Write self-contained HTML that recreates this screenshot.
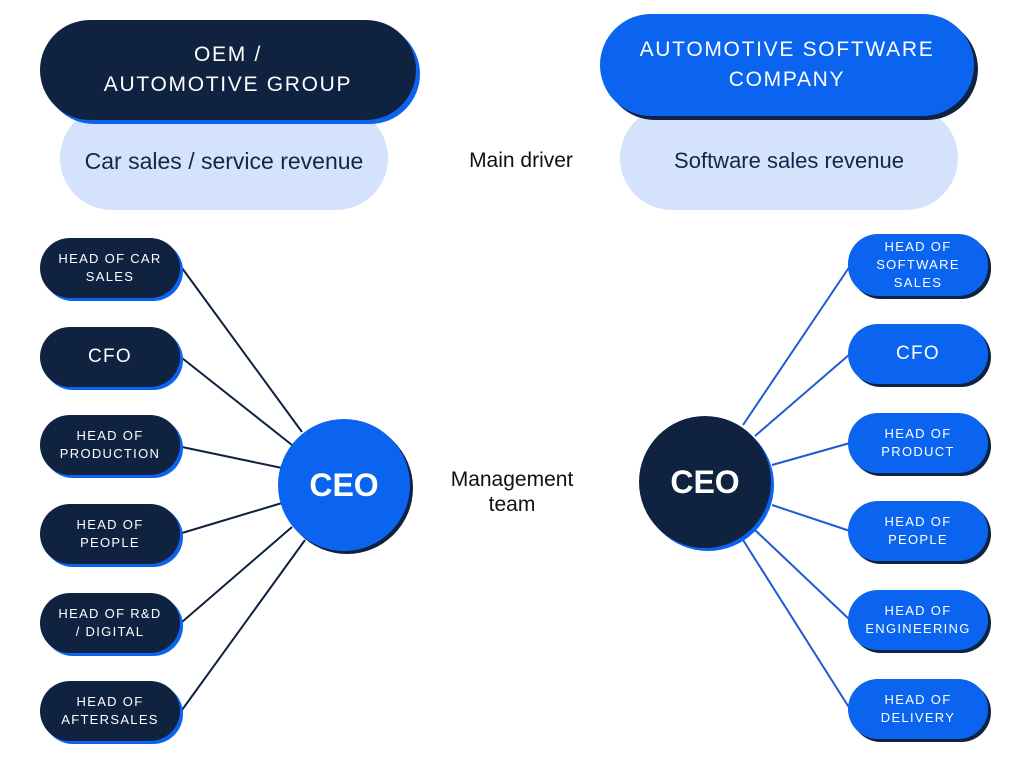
<!DOCTYPE html>
<html><head><meta charset="utf-8"><style>
body{margin:0;width:1024px;height:768px;background:#fff;font-family:"Liberation Sans",sans-serif;position:relative;overflow:hidden}
.a{position:absolute;display:flex;align-items:center;justify-content:center;text-align:center;box-sizing:border-box}
.big{border-radius:52px;font-size:21px;letter-spacing:1.7px;line-height:30px;color:#fff}
.light{background:#d4e3fb;border-radius:52px;font-size:23px;color:#13254a}
.pill{width:140px;height:60px;border-radius:30px;color:#fff;font-size:13px;letter-spacing:1.3px;line-height:18px}
.L{background:#0f2240;box-shadow:3px 3px 0 #0a64f0}
.R{background:#0a64f0;box-shadow:3px 3px 0 #0f2240}
.cfo{font-size:19px}
.ceo{border-radius:50%;width:132px;height:132px;font-size:32px;font-weight:bold;color:#fff}
.t{font-size:21px;color:#111;line-height:25px}
</style></head><body>
<div class="a light" style="left:60px;top:106px;width:328px;height:104px;padding-top:6px">Car sales / service revenue</div>
<div class="a light" style="left:620px;top:106px;width:338px;height:104px;padding-top:6px;font-size:22px">Software sales revenue</div>
<div class="a big L" style="left:40px;top:20px;width:376px;height:100px;box-shadow:4px 4px 0 #0a64f0">OEM /<br>AUTOMOTIVE GROUP</div>
<div class="a big R" style="left:600px;top:14px;width:374px;height:102px;box-shadow:4px 4px 0 #0f2240">AUTOMOTIVE SOFTWARE<br>COMPANY</div>
<div class="a t" style="left:441px;top:148px;width:160px">Main driver</div>
<div class="a t" style="left:422px;top:467px;width:180px">Management<br>team</div>
<svg style="position:absolute;left:0;top:0" width="1024" height="768">
<g stroke="#0f2240" stroke-width="2">
<line x1="182" y1="268" x2="302" y2="432"/><line x1="182" y1="358" x2="292" y2="445"/><line x1="182" y1="447" x2="282" y2="468"/>
<line x1="182" y1="533" x2="282" y2="503"/><line x1="182" y1="622" x2="292" y2="527"/><line x1="182" y1="710" x2="305" y2="540"/></g>
<g stroke="#1e5bd0" stroke-width="2">
<line x1="743" y1="425" x2="850" y2="266"/><line x1="755" y1="436" x2="850" y2="354"/><line x1="772" y1="465" x2="850" y2="443"/>
<line x1="772" y1="505" x2="850" y2="531"/><line x1="755" y1="530" x2="850" y2="620"/><line x1="743" y1="540" x2="850" y2="709"/></g>
</svg>
<div class="a ceo R" style="left:278px;top:419px;box-shadow:3px 3px 0 #0f2240">CEO</div>
<div class="a ceo L" style="left:639px;top:416px;box-shadow:3px 3px 0 #0a64f0">CEO</div>
<div class="a pill L" style="left:40px;top:238px">HEAD OF CAR<br>SALES</div>
<div class="a pill L cfo" style="left:40px;top:327px">CFO</div>
<div class="a pill L" style="left:40px;top:415px">HEAD OF<br>PRODUCTION</div>
<div class="a pill L" style="left:40px;top:504px">HEAD OF<br>PEOPLE</div>
<div class="a pill L" style="left:40px;top:593px">HEAD OF R&amp;D<br>/ DIGITAL</div>
<div class="a pill L" style="left:40px;top:681px">HEAD OF<br>AFTERSALES</div>
<div class="a pill R" style="left:848px;top:234px;height:62px">HEAD OF<br>SOFTWARE<br>SALES</div>
<div class="a pill R cfo" style="left:848px;top:324px">CFO</div>
<div class="a pill R" style="left:848px;top:413px">HEAD OF<br>PRODUCT</div>
<div class="a pill R" style="left:848px;top:501px">HEAD OF<br>PEOPLE</div>
<div class="a pill R" style="left:848px;top:590px">HEAD OF<br>ENGINEERING</div>
<div class="a pill R" style="left:848px;top:679px">HEAD OF<br>DELIVERY</div>
</body></html>
